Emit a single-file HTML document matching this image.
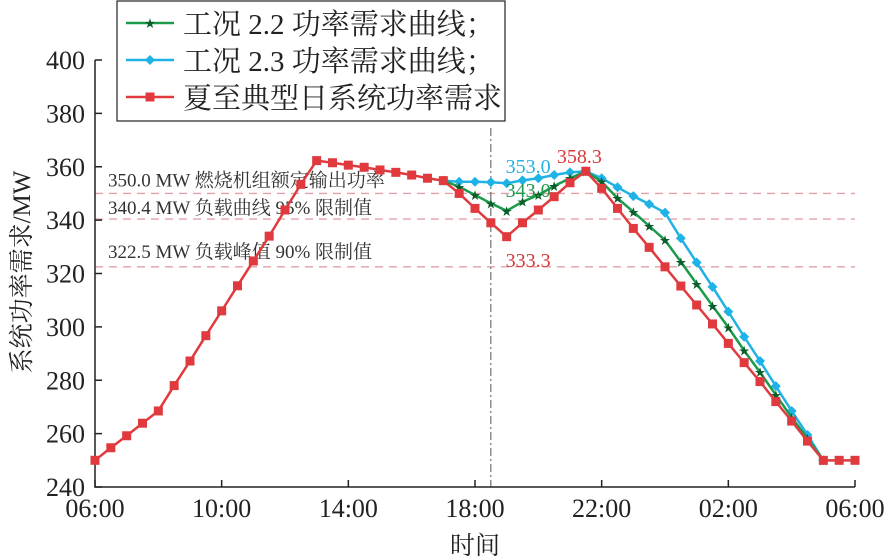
<!DOCTYPE html>
<html><head><meta charset="utf-8"><style>
body{margin:0;background:#fff}
svg{display:block;font-family:"Liberation Serif","Noto Serif CJK SC",serif}
</style></head><body>
<svg id="chart" width="893" height="560" viewBox="0 0 893 560"></svg>
<script>
const xTickLabels=["06:00","10:00","14:00","18:00","22:00","02:00","06:00"];
const yTicks=[240,260,280,300,320,340,360,380,400];
const redValues=[250,254.7,259.2,263.9,268.5,278,287.2,296.7,306,315.4,324.7,334,343.8,353.4,362.3,361.5,360.6,359.8,358.8,357.9,356.9,355.7,354.8,350,344.4,339,333.8,339,343.8,348.8,354,358.3,351.9,344.4,336.9,329.8,322.5,315.3,308.2,301.1,293.8,286.6,279.5,272,264.7,257.2,250,250,250];
const greenStart=22;
const greenValues=[354.8,352.5,349.4,346.3,343.5,346.9,349.4,352.8,355.7,358.3,354.4,348.2,343.1,337.8,332.5,324.4,316.1,307.9,299.8,291.1,283,274.5,266.1,258.2,250];
const blueValues=[354.8,354.4,354.4,354.2,353.8,354.9,355.7,356.9,357.9,358.3,355.7,352.3,349,346,342.8,333.2,324.1,315,305.7,296.3,287.2,277.8,268.5,259.5,250];
const limitValues=[350,340.4,322.5];
const limitLabels=["350.0 MW 燃烧机组额定输出功率","340.4 MW 负载曲线 95% 限制值","322.5 MW 负载峰值 90% 限制值"];
const annotations=[{i:26,v:353.0,t:"353.0",c:"#27b1e0",by:173,dx:-1},{i:26,v:343.0,t:"343.0",c:"#1f9a4e",by:197,dx:-1},{i:26,v:333.3,t:"333.3",c:"#d83a3a",by:267,dx:-1},{i:31,v:358.3,t:"358.3",c:"#d83a3a",by:163,dx:-29}];
const X0=95,X1=855,Y0=487,Y1=60;
const xs=i=>X0+(X1-X0)*i/48;
const ys=v=>Y0-(v-240)*(Y0-Y1)/160;
const svg=document.getElementById('chart');
const NS="http://www.w3.org/2000/svg";
function mk(tag,attrs,parent){const e=document.createElementNS(NS,tag);for(const k in attrs)e.setAttribute(k,attrs[k]);(parent||svg).appendChild(e);return e;}
limitValues.forEach((v,k)=>{
 const l=mk('line',{x1:X0,x2:X1,y1:ys(v),y2:ys(v),stroke:'#e3a0a8','stroke-width':1.3,'stroke-dasharray':'8,6'});
 
 
 const t=mk('text',{x:108,y:ys(v)-[7,5,9][k],'font-size':19,fill:'#333'});t.textContent=limitLabels[k];
 
 
});
const vl=mk('line',{x1:xs(25),x2:xs(25),y1:128,y2:Y0,stroke:'#555','stroke-width':1,'stroke-dasharray':'8,3,2,3'});


const ax=mk('path',{d:`M${X0},${Y1}V${Y0}H${X1}`,stroke:'#222','stroke-width':1.5,fill:'none'});


yTicks.forEach(v=>{
 mk('line',{x1:X0,x2:X0+7,y1:ys(v),y2:ys(v),stroke:'#222','stroke-width':1.5});
 const t=mk('text',{x:X0-10,y:ys(v)+9,'font-size':26,'text-anchor':'end',fill:'#222'});t.textContent=v;
 
 
});
xTickLabels.forEach((s,k)=>{
 const x=X0+(X1-X0)*k/6;
 mk('line',{x1:x,x2:x,y1:Y0,y2:Y0-7,stroke:'#222','stroke-width':1.5});
 const t=mk('text',{x:x,y:517,'font-size':26,'text-anchor':'middle',fill:'#222'});t.textContent=s;
 
 
});
const xt=mk('text',{x:475,y:554,'font-size':25,'text-anchor':'middle',fill:'#222'});xt.textContent='时间';


const yt=mk('text',{x:0,y:0,'font-size':25,'text-anchor':'middle',fill:'#222',transform:'translate(30,272) rotate(-90)'});yt.textContent='系统功率需求/MW';


function series(vals,start,color,marker,name){
 const g=mk('g',{});
 
 
 mk('polyline',{points:vals.map((v,i)=>xs(i+start)+','+ys(v)).join(' '),fill:'none',stroke:color,'stroke-width':2.5},g);
 vals.forEach((v,i)=>{drawMarker(g,marker,xs(i+start),ys(v),color);});
}
function drawMarker(g,m,x,y,c){
 let e;
 if(m==='sq')e=mk('rect',{x:x-4.5,y:y-4.5,width:9,height:9,fill:c},g);
 else if(m==='di')e=mk('path',{d:`M${x},${y-5}L${x+5},${y}L${x},${y+5}L${x-5},${y}Z`,fill:c},g);
 else {e=mk('text',{x:x,y:y+4,'font-size':11,'text-anchor':'middle',fill:'#0b5e2a'},g);e.textContent='★';}
 
 
}
series(blueValues,greenStart,'#1fb2e6','di','series-case-2-3');
series(greenValues,greenStart,'#1c9a4c','st','series-case-2-2');
series(redValues,0,'#e03a3e','sq','series-typical-day');
annotations.forEach(a=>{
 const t=mk('text',{x:xs(a.i)+a.dx,y:a.by,'font-size':20,'text-anchor':'start',fill:a.c});t.textContent=a.t;
 
 
});
const lg=mk('g',{});


mk('rect',{x:117,y:1,width:388,height:120,fill:'#fff',stroke:'#222','stroke-width':1.2},lg);
const legendItems=[["工况 2.2 功率需求曲线；",'#1c9a4c','st'],["工况 2.3 功率需求曲线；",'#1fb2e6','di'],["夏至典型日系统功率需求",'#e03a3e','sq']];
legendItems.forEach((it,k)=>{
 const y=23+k*37;
 const e=mk('g',{},lg);
 
 
 mk('line',{x1:126,x2:174,y1:y,y2:y,stroke:it[1],'stroke-width':2.5},e);
 drawMarker(e,it[2],150,y,it[1]);
 const t=mk('text',{x:183,y:y+11,'font-size':29,fill:'#222'},e);t.textContent=it[0];
});
</script>
</body></html>
